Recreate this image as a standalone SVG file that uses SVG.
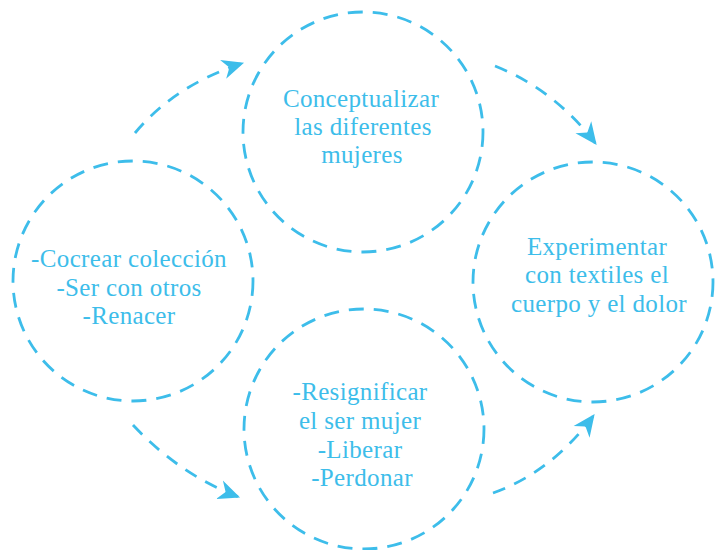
<svg xmlns="http://www.w3.org/2000/svg" width="720" height="550" viewBox="0 0 720 550">
  <style>
    .node circle { fill: none; stroke: #3dbdea; stroke-width: 2.8; stroke-dasharray: 15 10; }
    .node text { font-family: "Liberation Serif", "Times New Roman", serif; font-size: 25px; fill: #3dbdea; text-anchor: middle; letter-spacing: 0.35px; }
    .conn path { fill: none; stroke: #3dbdea; stroke-width: 2.8; stroke-dasharray: 13 10; }
  </style>
  <defs>
    <marker id="arrow" markerUnits="userSpaceOnUse" markerWidth="22" markerHeight="22" viewBox="0 0 20 18" refX="19" refY="9" orient="auto">
      <path d="M0,0 L20,9 L0,18 L6,9 Z" fill="#3dbdea"/>
    </marker>
  </defs>
  <rect width="720" height="550" fill="#ffffff"/>
  <g id="node-left" class="node">
    <circle cx="133" cy="281" r="120"/>
    <text x="129" y="267">-Cocrear colección</text>
    <text x="129" y="296">-Ser con otros</text>
    <text x="129" y="324">-Renacer</text>
  </g>
  <g id="node-top" class="node">
    <circle cx="363" cy="132" r="120"/>
    <text x="361" y="107">Conceptualizar</text>
    <text x="363" y="135">las diferentes</text>
    <text x="362" y="163">mujeres</text>
  </g>
  <g id="node-right" class="node">
    <circle cx="593" cy="282" r="120"/>
    <text x="597" y="255">Experimentar</text>
    <text x="597" y="283">con textiles el</text>
    <text x="599" y="312">cuerpo y el dolor</text>
  </g>
  <g id="node-bottom" class="node">
    <circle cx="364" cy="429" r="120"/>
    <text x="360" y="400">-Resignificar</text>
    <text x="360" y="429">el ser mujer</text>
    <text x="360" y="458">-Liberar</text>
    <text x="362" y="486">-Perdonar</text>
  </g>
  <g id="connectors" class="conn">
    <path d="M135,133 Q175,85 243,63" marker-end="url(#arrow)"/>
    <path d="M495,66 Q555,90 596,144" marker-end="url(#arrow)"/>
    <path d="M133,425 Q180,475 239,497" marker-end="url(#arrow)"/>
    <path d="M493,493 Q552,472 594,415" marker-end="url(#arrow)"/>
  </g>
</svg>
